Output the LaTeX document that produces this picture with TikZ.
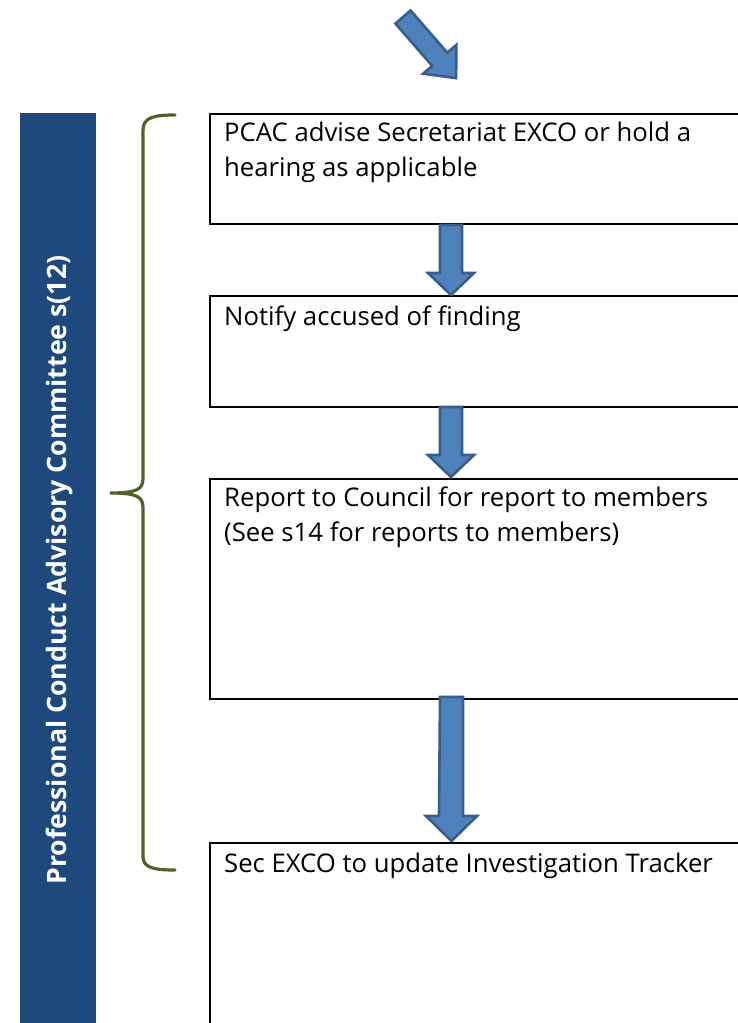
\documentclass[tikz,border=0pt]{standalone}
\usepackage{fontspec}
\setmainfont{Open Sans}
\begin{document}
\begin{tikzpicture}[x=1bp,y=-1bp,
  stepbox/.style={draw=black,line width=2bp,fill=white,inner sep=0pt,anchor=north west},
  steptext/.style={anchor=base west,inner sep=0pt,font=\fontsize{25.7bp}{35bp}\selectfont,align=left},
  barrow/.style={draw={rgb,255:red,56;green,93;blue,138},fill={rgb,255:red,79;green,129;blue,189},line width=2.6bp,line join=miter},
  bracestyle/.style={draw={rgb,255:red,79;green,98;blue,40},line width=3.2bp,line cap=round}]
\useasboundingbox (0,0) rectangle (738,1023);
\clip (0,0) rectangle (738,1023);
\definecolor{barblue}{RGB}{31,73,125}
% side bar
\fill[barblue] (20,113) rectangle (96,1030);
\node[rotate=90,text=white,font=\bfseries\fontsize{26.7bp}{30bp}\selectfont,inner sep=0pt] (side) at (59,570) {Professional Conduct Advisory Committee s(12)};
% brace
\draw[bracestyle] (175,115) .. controls (155,115) and (143,117) .. (143,130) -- (143,478)
  .. controls (143,489) and (138,493) .. (110,493)
  .. controls (138,493) and (143,497) .. (143,508) -- (143,857)
  .. controls (143,868) and (155,870) .. (175,870);
% boxes
\node[stepbox,minimum width=560bp,minimum height=110bp] (b1) at (209,113) {};
\node[stepbox,minimum width=560bp,minimum height=111bp] (b2) at (209,295) {};
\node[stepbox,minimum width=560bp,minimum height=220bp] (b3) at (209,478) {};
\node[stepbox,minimum width=560bp,minimum height=250bp] (b4) at (209,842) {};
% texts (base = baseline of last line)
\node[steptext] (t1) at (224,176) {PCAC advise Secretariat EXCO or hold a\\hearing as applicable};
\node[steptext] (t2) at (224,325) {Notify accused of finding};
\node[steptext] (t3) at (224,541) {Report to Council for report to members\\(See s14 for reports to members)};
\node[steptext] (t4) at (224,872) {Sec EXCO to update Investigation Tracker};
% block arrows between boxes
\draw[barrow] (440,225) -- (462,225) -- (462,273) -- (474,273) -- (451,295) -- (428,273) -- (440,273) -- cycle;
\draw[barrow] (440,407) -- (462,407) -- (462,455) -- (474,455) -- (451,477) -- (428,455) -- (440,455) -- cycle;
\draw[barrow] (440,697) -- (463,697) -- (463,816) -- (477,816) -- (451.5,841) -- (426,816) -- (439,816) -- cycle;
% incoming diagonal arrow
\begin{scope}[shift={(403,17)},rotate=-49]
\draw[barrow] (0,-10) -- (56,-10) -- (56,-22) -- (81,0) -- (56,22) -- (56,10) -- (0,10) -- cycle;
\end{scope}
\end{tikzpicture}
\end{document}
